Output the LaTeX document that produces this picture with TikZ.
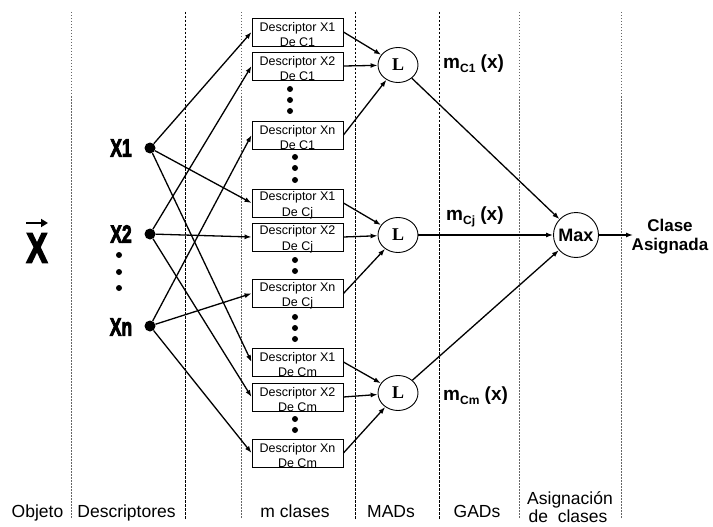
\documentclass[tikz,border=0pt]{standalone}
\usepackage{fontspec}
\setmainfont{Liberation Sans}
\newfontfamily\serifL{Liberation Serif}
\newfontfamily\heavyfont[FakeBold=4]{Liberation Sans Bold}
\usetikzlibrary{arrows.meta,shapes.geometric}
\begin{document}
\begin{tikzpicture}[x=1pt,y=-1pt,
 arr/.style={line width=1.3pt,-{Latex[length=7pt,width=5pt]}},
 desc/.style={draw,line width=0.9pt,minimum width=91pt,minimum height=28pt,inner sep=0pt,
   label={[font=\fontsize{12.5}{15.5}\selectfont,align=center,yshift=-2.5pt]center:#1}},
 sdot/.style={circle,fill,inner sep=0pt,minimum size=6pt},
 xdot/.style={circle,fill,inner sep=0pt,minimum size=11pt},
 lnode/.style={ellipse,draw,line width=0.9pt,minimum width=40pt,minimum height=35pt,inner sep=0pt,
   font=\serifL\bfseries\fontsize{18}{18}\selectfont},
 maxnode/.style={circle,draw,line width=0.9pt,minimum size=45pt,inner sep=0pt,
   font=\bfseries\fontsize{18}{18}\selectfont},
 xlab/.style={font=\heavyfont\fontsize{25}{25}\selectfont,inner sep=0pt},
 bot/.style={font=\fontsize{17.5}{20}\selectfont,inner sep=0pt,anchor=base},
 mlab/.style={font=\bfseries\fontsize{19}{19}\selectfont,inner sep=0pt,anchor=base west},
 vgray/.style={gray!80!black,line width=0.8pt,dash pattern=on 1.5pt off 1.5pt},
 vblack/.style={black,line width=0.7pt,dash pattern=on 2.5pt off 1.5pt}
]
\useasboundingbox (0,0) rectangle (713,527);
% vertical separators
\draw[vgray]  (71,12) -- (71,519);
\draw[vblack] (185,12) -- (185,519);
\draw[vgray]  (241,12) -- (241,519);
\draw[vblack] (355,12) -- (355,519);
\draw[vblack] (439,12) -- (439,519);
\draw[vgray]  (519,12) -- (519,519);
\draw[vgray]  (621,12) -- (621,519);

% object vector
\node[font=\heavyfont\fontsize{42}{42}\selectfont,inner sep=0pt] (vx) at (37,248) {\scalebox{0.75}[1]{X}};
\coordinate (va) at (26,223);
\coordinate (vb) at (48,223);
\draw[line width=2.4pt,-{Triangle[length=7pt,width=8pt]}] (va) -- (vb);

% descriptor inputs
\node[xlab] (lx1) at (121,148) {\scalebox{0.7}[1]{X1}};
\node[xlab] (lx2) at (121,234) {\scalebox{0.7}[1]{X2}};
\node[xlab] (lxn) at (121,327) {\scalebox{0.7}[1]{Xn}};
\node[sdot] (d1) at (119,255) {};
\node[sdot] (d2) at (119,272) {};
\node[sdot] (d3) at (119,288) {};
\node[xdot] (x1) at (150,148) {};
\node[xdot] (x2) at (150,234) {};
\node[xdot] (xn) at (150,326) {};

% boxes
\node[desc={Descriptor X1\\De C1}] (b11) at (297.5,32) {};
\node[desc={Descriptor X2\\De C1}] (b12) at (297.5,66) {};
\node[desc={Descriptor Xn\\De C1}] (b1n) at (297.5,135) {};
\node[desc={Descriptor X1\\De Cj}] (b21) at (297.5,203) {};
\node[desc={Descriptor X2\\De Cj}] (b22) at (297.5,237) {};
\node[desc={Descriptor Xn\\De Cj}] (b2n) at (297.5,293.5) {};
\node[desc={Descriptor X1\\De Cm}] (b31) at (297.5,362) {};
\node[desc={Descriptor X2\\De Cm}] (b32) at (297.5,397) {};
\node[desc={Descriptor Xn\\De Cm}] (b3n) at (297.5,453) {};

% dots between boxes
\node[sdot] (e1) at (290,89) {};
\node[sdot] (e2) at (290,100) {};
\node[sdot] (e3) at (290,111) {};
\node[sdot] (e4) at (295,157) {};
\node[sdot] (e5) at (295,168) {};
\node[sdot] (e6) at (295,180) {};
\node[sdot] (e7) at (295,260) {};
\node[sdot] (e8) at (295,271) {};
\node[sdot] (e9) at (295,317) {};
\node[sdot] (e10) at (295,328) {};
\node[sdot] (e11) at (295,339) {};
\node[sdot] (e12) at (295,419) {};
\node[sdot] (e13) at (295,430) {};

% L nodes and Max
\node[lnode] (L1) at (398,65) {L};
\node[lnode] (L2) at (398,235) {L};
\node[lnode] (L3) at (398,393) {L};
\node[maxnode] (mx) at (576,235) {Max};
\coordinate (out) at (633,235);
\node[font=\bfseries\fontsize{17}{19}\selectfont,align=center,inner sep=0pt] (cls) at (670,237) {Clase\\Asignada};

% connectors X -> boxes
\draw[arr] (x1) -- (b11.west);
\draw[arr] (x1) -- (b21.west);
\draw[arr] (x1) -- (b31.west);
\draw[arr] (x2) -- (b12.west);
\draw[arr] (x2) -- (b22.west);
\draw[arr] (x2) -- (b32.west);
\draw[arr] (xn) -- (b1n.west);
\draw[arr] (xn) -- (b2n.west);
\draw[arr] (xn) -- (b3n.west);

% boxes -> L
\draw[arr] (b11.east) -- (L1);
\draw[arr] (b12.east) -- (L1);
\draw[arr] (b1n.east) -- (L1);
\draw[arr] (b21.east) -- (L2);
\draw[arr] (b22.east) -- (L2);
\draw[arr] (b2n.east) -- (L2);
\draw[arr] (b31.east) -- (L3);
\draw[arr] (b32.east) -- (L3);
\draw[arr] (b3n.east) -- (L3);

% L -> Max
\draw[arr] (L1) -- (mx);
\draw[arr] (L2) -- (mx);
\draw[arr] (L3) -- (mx);
\draw[arr] (mx) -- (out);

% membership labels
\node[mlab] (m1) at (443,69) {m\raisebox{-4pt}{\fontsize{12}{12}\selectfont C1} (x)};
\node[mlab] (m2) at (446,220) {m\raisebox{-4pt}{\fontsize{12}{12}\selectfont Cj} (x)};
\node[mlab] (m3) at (443,400) {m\raisebox{-4pt}{\fontsize{12}{12}\selectfont Cm} (x)};

% bottom labels
\node[bot] (t1) at (37.5,517) {Objeto};
\node[bot] (t2) at (126.5,517) {Descriptores};
\node[bot] (t3) at (295,517) {m clases};
\node[bot] (t4) at (391,517) {MADs};
\node[bot] (t5) at (477,517) {GADs};
\node[bot] (t6) at (570,504) {Asignación};
\node[bot] (t7) at (568,522) {de\ \ clases};
\end{tikzpicture}
\end{document}
